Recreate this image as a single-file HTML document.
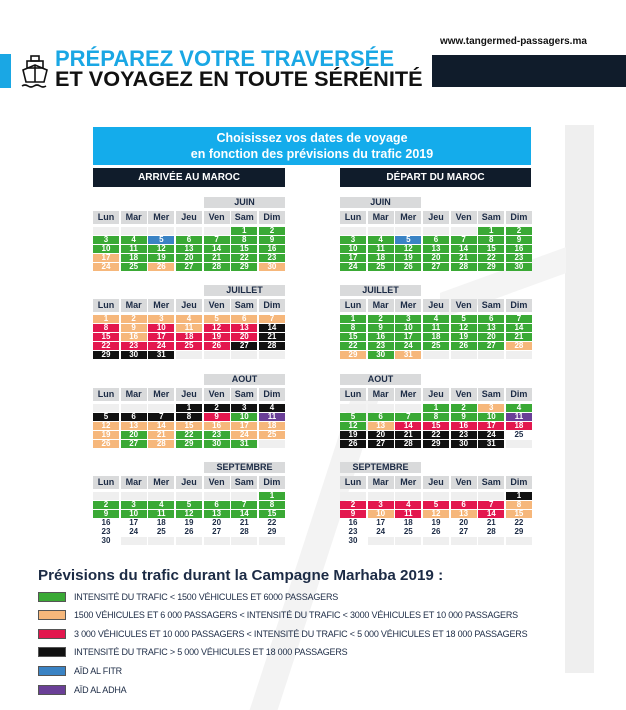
<!DOCTYPE html>
<html><head><meta charset="utf-8">
<style>
*{margin:0;padding:0;box-sizing:border-box}
body{width:626px;height:700px;background:#fff;position:relative;overflow:hidden;font-family:"Liberation Sans",sans-serif;color:#1c2b45}
.abs{position:absolute}
.m{position:absolute;width:192px}
.lbl{height:11px;width:81px;background:#d9dadb;font-weight:bold;font-size:9px;line-height:11px;text-align:center;color:#1c2b45}
.g{display:grid;grid-template-columns:repeat(7,26px);column-gap:1.67px}
.hd{margin-top:3px;height:13px}
.hd span{background:#d9dadb;font-weight:bold;font-size:9px;line-height:13px;text-align:center;display:block}
.d{margin-top:3px;row-gap:1px;grid-auto-rows:8px}
.d i{font-style:normal;font-weight:bold;font-size:8px;line-height:8px;text-align:center;color:#fff;display:block}
.G{background:#3aa935}.O{background:#f6b77b}.R{background:#e3174e}.K{background:#111}.B{background:#3a83c4}.P{background:#6a3f97}
.e{background:#efefef}
.d i.w{background:#fff;color:#1c2b45}
.sw{position:absolute;left:38px;width:28px;height:10px;border:1px solid #555}
.lt{position:absolute;left:74px;font-size:9px;line-height:10px;color:#1c2b45;white-space:nowrap;letter-spacing:-0.2px}
</style></head><body>
<div class="abs" style="left:565px;top:125px;width:29px;height:548px;background:#efefef"></div>
<div class="abs" style="left:440px;top:270px;width:126px;height:26px;background:#f4f4f4;transform:skewY(-20deg)"></div>
<div class="abs" style="left:300px;top:400px;width:28px;height:310px;background:#f3f3f3;transform:skewX(-18deg)"></div>

<div class="abs" style="left:440px;top:36px;font-size:10px;font-weight:bold;color:#111">www.tangermed-passagers.ma</div>
<div class="abs" style="left:0;top:54px;width:11px;height:34px;background:#1aa7e4"></div>
<svg class="abs" style="left:20px;top:54px" width="30" height="36" viewBox="0 0 30 36"><g fill="none" stroke="#111" stroke-width="1.6"><rect x="11" y="2" width="8" height="5"/><rect x="7" y="7" width="16" height="7"/><path d="M3 16 L15 11 L27 16 L24 28 L6 28 Z"/><path d="M15 11 V28"/><path d="M2 32 q3 -2 6 0 t6 0 t6 0 t6 0"/></g></svg>
<div class="abs" style="left:55px;top:47px;font-size:22px;line-height:24px;font-weight:bold;color:#1aa7e4;white-space:nowrap">PRÉPAREZ VOTRE TRAVERSÉE</div>
<div class="abs" style="left:55px;top:67px;font-size:21.7px;line-height:24px;font-weight:bold;color:#111;white-space:nowrap">ET VOYAGEZ EN TOUTE SÉRÉNITÉ</div>
<div class="abs" style="left:432px;top:55px;width:194px;height:32px;background:#101c2b"></div>

<div class="abs" style="left:93px;top:127px;width:438px;height:38px;background:#14aceb;color:#fff;font-weight:bold;font-size:12.5px;line-height:16px;text-align:center;padding-top:3px">Choisissez vos dates de voyage<br>en fonction des prévisions du trafic 2019</div>
<div class="abs" style="left:93px;top:168px;width:192px;height:19px;background:#101c2b;color:#fff;font-weight:bold;font-size:10px;line-height:19px;text-align:center">ARRIVÉE AU MAROC</div>
<div class="abs" style="left:340px;top:168px;width:191px;height:19px;background:#101c2b;color:#fff;font-weight:bold;font-size:10px;line-height:19px;text-align:center">DÉPART DU MAROC</div>

<div class="m" style="left:93px;top:197px"><div class="lbl" style="margin-left:111px">JUIN</div>
<div class="g hd"><span>Lun</span><span>Mar</span><span>Mer</span><span>Jeu</span><span>Ven</span><span>Sam</span><span>Dim</span></div>
<div class="g d"><i class="e"></i><i class="e"></i><i class="e"></i><i class="e"></i><i class="e"></i><i class="G">1</i><i class="G">2</i>
<i class="G">3</i><i class="G">4</i><i class="B">5</i><i class="G">6</i><i class="G">7</i><i class="G">8</i><i class="G">9</i>
<i class="G">10</i><i class="G">11</i><i class="G">12</i><i class="G">13</i><i class="G">14</i><i class="G">15</i><i class="G">16</i>
<i class="O">17</i><i class="G">18</i><i class="G">19</i><i class="G">20</i><i class="G">21</i><i class="G">22</i><i class="G">23</i>
<i class="O">24</i><i class="G">25</i><i class="O">26</i><i class="G">27</i><i class="G">28</i><i class="G">29</i><i class="O">30</i></div></div>

<div class="m" style="left:93px;top:285px"><div class="lbl" style="margin-left:111px">JUILLET</div>
<div class="g hd"><span>Lun</span><span>Mar</span><span>Mer</span><span>Jeu</span><span>Ven</span><span>Sam</span><span>Dim</span></div>
<div class="g d"><i class="O">1</i><i class="O">2</i><i class="O">3</i><i class="O">4</i><i class="O">5</i><i class="O">6</i><i class="O">7</i>
<i class="R">8</i><i class="O">9</i><i class="R">10</i><i class="O">11</i><i class="R">12</i><i class="R">13</i><i class="K">14</i>
<i class="R">15</i><i class="O">16</i><i class="R">17</i><i class="R">18</i><i class="R">19</i><i class="R">20</i><i class="K">21</i>
<i class="R">22</i><i class="R">23</i><i class="R">24</i><i class="R">25</i><i class="R">26</i><i class="K">27</i><i class="K">28</i>
<i class="K">29</i><i class="K">30</i><i class="K">31</i><i class="e"></i><i class="e"></i><i class="e"></i><i class="e"></i></div></div>

<div class="m" style="left:93px;top:374px"><div class="lbl" style="margin-left:111px">AOUT</div>
<div class="g hd"><span>Lun</span><span>Mar</span><span>Mer</span><span>Jeu</span><span>Ven</span><span>Sam</span><span>Dim</span></div>
<div class="g d"><i class="e"></i><i class="e"></i><i class="e"></i><i class="K">1</i><i class="K">2</i><i class="K">3</i><i class="K">4</i>
<i class="K">5</i><i class="K">6</i><i class="K">7</i><i class="K">8</i><i class="R">9</i><i class="G">10</i><i class="P">11</i>
<i class="O">12</i><i class="O">13</i><i class="O">14</i><i class="O">15</i><i class="O">16</i><i class="O">17</i><i class="O">18</i>
<i class="O">19</i><i class="G">20</i><i class="O">21</i><i class="G">22</i><i class="G">23</i><i class="O">24</i><i class="O">25</i>
<i class="O">26</i><i class="G">27</i><i class="O">28</i><i class="G">29</i><i class="G">30</i><i class="G">31</i><i class="e"></i></div></div>

<div class="m" style="left:93px;top:462px"><div class="lbl" style="margin-left:111px">SEPTEMBRE</div>
<div class="g hd"><span>Lun</span><span>Mar</span><span>Mer</span><span>Jeu</span><span>Ven</span><span>Sam</span><span>Dim</span></div>
<div class="g d"><i class="e"></i><i class="e"></i><i class="e"></i><i class="e"></i><i class="e"></i><i class="e"></i><i class="G">1</i>
<i class="G">2</i><i class="G">3</i><i class="G">4</i><i class="G">5</i><i class="G">6</i><i class="G">7</i><i class="G">8</i>
<i class="G">9</i><i class="G">10</i><i class="G">11</i><i class="G">12</i><i class="G">13</i><i class="G">14</i><i class="G">15</i>
<i class="w">16</i><i class="w">17</i><i class="w">18</i><i class="w">19</i><i class="w">20</i><i class="w">21</i><i class="w">22</i>
<i class="w">23</i><i class="w">24</i><i class="w">25</i><i class="w">26</i><i class="w">27</i><i class="w">28</i><i class="w">29</i>
<i class="w">30</i><i class="e"></i><i class="e"></i><i class="e"></i><i class="e"></i><i class="e"></i><i class="e"></i></div></div>

<div class="m" style="left:340px;top:197px"><div class="lbl">JUIN</div>
<div class="g hd"><span>Lun</span><span>Mar</span><span>Mer</span><span>Jeu</span><span>Ven</span><span>Sam</span><span>Dim</span></div>
<div class="g d"><i class="e"></i><i class="e"></i><i class="e"></i><i class="e"></i><i class="e"></i><i class="G">1</i><i class="G">2</i>
<i class="G">3</i><i class="G">4</i><i class="B">5</i><i class="G">6</i><i class="G">7</i><i class="G">8</i><i class="G">9</i>
<i class="G">10</i><i class="G">11</i><i class="G">12</i><i class="G">13</i><i class="G">14</i><i class="G">15</i><i class="G">16</i>
<i class="G">17</i><i class="G">18</i><i class="G">19</i><i class="G">20</i><i class="G">21</i><i class="G">22</i><i class="G">23</i>
<i class="G">24</i><i class="G">25</i><i class="G">26</i><i class="G">27</i><i class="G">28</i><i class="G">29</i><i class="G">30</i></div></div>

<div class="m" style="left:340px;top:285px"><div class="lbl">JUILLET</div>
<div class="g hd"><span>Lun</span><span>Mar</span><span>Mer</span><span>Jeu</span><span>Ven</span><span>Sam</span><span>Dim</span></div>
<div class="g d"><i class="G">1</i><i class="G">2</i><i class="G">3</i><i class="G">4</i><i class="G">5</i><i class="G">6</i><i class="G">7</i>
<i class="G">8</i><i class="G">9</i><i class="G">10</i><i class="G">11</i><i class="G">12</i><i class="G">13</i><i class="G">14</i>
<i class="G">15</i><i class="G">16</i><i class="G">17</i><i class="G">18</i><i class="G">19</i><i class="G">20</i><i class="G">21</i>
<i class="G">22</i><i class="G">23</i><i class="G">24</i><i class="G">25</i><i class="G">26</i><i class="G">27</i><i class="O">28</i>
<i class="O">29</i><i class="G">30</i><i class="O">31</i><i class="e"></i><i class="e"></i><i class="e"></i><i class="e"></i></div></div>

<div class="m" style="left:340px;top:374px"><div class="lbl">AOUT</div>
<div class="g hd"><span>Lun</span><span>Mar</span><span>Mer</span><span>Jeu</span><span>Ven</span><span>Sam</span><span>Dim</span></div>
<div class="g d"><i class="e"></i><i class="e"></i><i class="e"></i><i class="G">1</i><i class="G">2</i><i class="O">3</i><i class="G">4</i>
<i class="G">5</i><i class="G">6</i><i class="G">7</i><i class="G">8</i><i class="G">9</i><i class="G">10</i><i class="P">11</i>
<i class="G">12</i><i class="O">13</i><i class="R">14</i><i class="R">15</i><i class="R">16</i><i class="R">17</i><i class="R">18</i>
<i class="K">19</i><i class="K">20</i><i class="K">21</i><i class="K">22</i><i class="K">23</i><i class="K">24</i><i class="w">25</i>
<i class="K">26</i><i class="K">27</i><i class="K">28</i><i class="K">29</i><i class="K">30</i><i class="K">31</i><i class="e"></i></div></div>

<div class="m" style="left:340px;top:462px"><div class="lbl">SEPTEMBRE</div>
<div class="g hd"><span>Lun</span><span>Mar</span><span>Mer</span><span>Jeu</span><span>Ven</span><span>Sam</span><span>Dim</span></div>
<div class="g d"><i class="e"></i><i class="e"></i><i class="e"></i><i class="e"></i><i class="e"></i><i class="e"></i><i class="K">1</i>
<i class="R">2</i><i class="R">3</i><i class="R">4</i><i class="R">5</i><i class="R">6</i><i class="R">7</i><i class="O">8</i>
<i class="R">9</i><i class="O">10</i><i class="R">11</i><i class="O">12</i><i class="O">13</i><i class="R">14</i><i class="O">15</i>
<i class="w">16</i><i class="w">17</i><i class="w">18</i><i class="w">19</i><i class="w">20</i><i class="w">21</i><i class="w">22</i>
<i class="w">23</i><i class="w">24</i><i class="w">25</i><i class="w">26</i><i class="w">27</i><i class="w">28</i><i class="w">29</i>
<i class="w">30</i><i class="e"></i><i class="e"></i><i class="e"></i><i class="e"></i><i class="e"></i><i class="e"></i></div></div>

<div class="abs" style="left:38px;top:567px;font-size:15.2px;font-weight:bold;color:#1c2b45;white-space:nowrap">Prévisions du trafic durant la Campagne Marhaba 2019 :</div>
<div class="sw G" style="top:592px"></div><div class="lt" style="top:592px">INTENSITÉ DU TRAFIC &lt; 1500 VÉHICULES ET 6000 PASSAGERS</div>
<div class="sw O" style="top:610px"></div><div class="lt" style="top:610px">1500 VÉHICULES ET 6 000 PASSAGERS &lt; INTENSITÉ DU TRAFIC &lt; 3000 VÉHICULES ET 10 000 PASSAGERS</div>
<div class="sw R" style="top:629px"></div><div class="lt" style="top:629px">3 000 VÉHICULES ET 10 000 PASSAGERS &lt; INTENSITÉ DU TRAFIC &lt; 5 000 VÉHICULES ET 18 000 PASSAGERS</div>
<div class="sw K" style="top:647px"></div><div class="lt" style="top:647px">INTENSITÉ DU TRAFIC &gt; 5 000 VÉHICULES ET 18 000 PASSAGERS</div>
<div class="sw B" style="top:666px"></div><div class="lt" style="top:666px">AÏD AL FITR</div>
<div class="sw P" style="top:685px"></div><div class="lt" style="top:685px">AÏD AL ADHA</div>
</body></html>
